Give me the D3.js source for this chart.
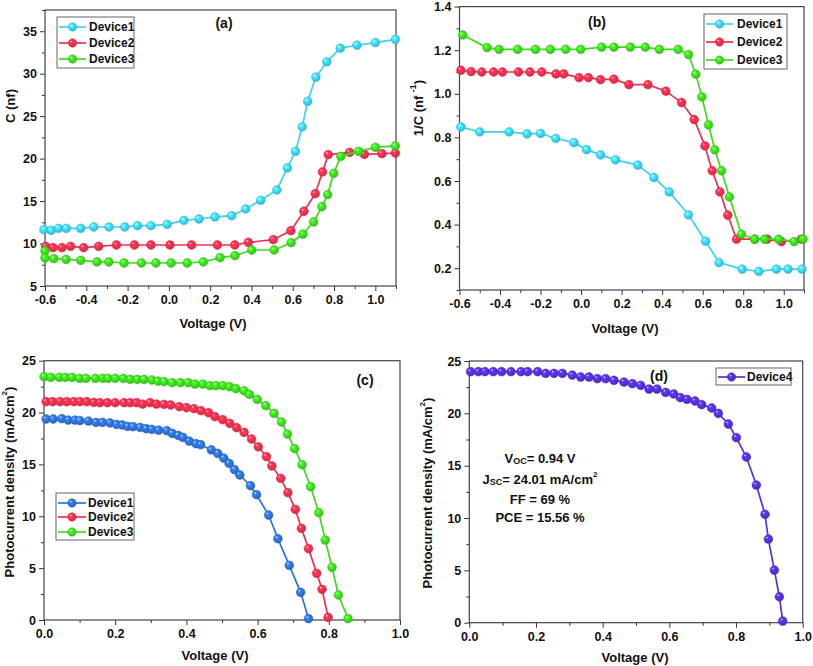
<!DOCTYPE html>
<html><head><meta charset="utf-8">
<script src="https://cdn.jsdelivr.net/npm/d3@7"></script>
<style>
body{margin:0;background:#fff}
text{font-family:"Liberation Sans",Arial,sans-serif;font-weight:bold;fill:#111}
</style></head><body>
<svg id="chart" width="813" height="666"></svg>
<script>
// ---------- DATA ----------
const legendNames = ["Device1","Device2","Device3"];
const legendNameD = ["Device4"];
const colorsAB = ["#3fd0f2","#f0304e","#3ddc1e"];
const colorsC  = ["#2f72d8","#f0304e","#3ddc1e"];
const colorD   = "#5530dc";

// (a) C vs V
const aDevice1 = [[-0.605,11.63],[-0.57,11.56],[-0.534,11.79],[-0.497,11.79],[-0.427,11.79],[-0.364,11.95],[-0.29,11.95],[-0.214,11.95],[-0.152,12.1],[-0.087,12.1],[-0.008,12.26],[0.073,12.73],[0.146,12.89],[0.223,13.13],[0.304,13.28],[0.372,14.07],[0.445,15.09],[0.523,16.31],[0.574,18.9],[0.613,20.86],[0.646,23.73],[0.672,26.75],[0.712,29.6],[0.765,31.4],[0.83,33.0],[0.911,33.35],[1.0,33.66],[1.097,34.05]];
const aDevice2 = [[-0.597,9.67],[-0.561,9.51],[-0.518,9.51],[-0.476,9.67],[-0.413,9.51],[-0.34,9.67],[-0.254,9.83],[-0.167,9.83],[-0.087,9.83],[0.005,9.83],[0.11,9.83],[0.235,9.83],[0.319,9.83],[0.385,10.14],[0.506,10.46],[0.591,11.52],[0.654,13.8],[0.709,15.87],[0.744,18.43],[0.772,20.47],[0.875,20.74],[0.947,20.5],[1.032,20.58],[1.097,20.66]];
const aDevice3 = [[-0.6,9.12],[-0.6,8.3],[-0.557,8.22],[-0.498,8.14],[-0.427,8.02],[-0.348,7.83],[-0.291,7.83],[-0.217,7.71],[-0.133,7.71],[-0.063,7.71],[0.011,7.71],[0.089,7.71],[0.167,7.83],[0.248,8.34],[0.32,8.57],[0.401,9.24],[0.51,9.24],[0.592,10.1],[0.649,11.12],[0.701,12.54],[0.741,14.34],[0.769,15.76],[0.798,18.27],[0.833,20.27],[0.919,20.86],[1.0,21.33],[1.097,21.49]];

// (b) 1/C vs V
const bDevice1 = [[-0.593,0.848],[-0.5,0.825],[-0.355,0.825],[-0.267,0.816],[-0.2,0.818],[-0.125,0.795],[-0.035,0.776],[0.027,0.744],[0.096,0.72],[0.17,0.697],[0.28,0.673],[0.359,0.616],[0.435,0.55],[0.53,0.445],[0.614,0.324],[0.681,0.226],[0.795,0.196],[0.877,0.185],[0.964,0.196],[1.021,0.196],[1.09,0.196]];
const bDevice2 = [[-0.593,1.108],[-0.543,1.102],[-0.49,1.1],[-0.432,1.1],[-0.388,1.1],[-0.309,1.1],[-0.252,1.1],[-0.194,1.1],[-0.124,1.091],[-0.086,1.091],[-0.01,1.074],[0.036,1.074],[0.096,1.065],[0.162,1.067],[0.236,1.042],[0.33,1.042],[0.418,1.012],[0.496,0.96],[0.558,0.882],[0.611,0.761],[0.647,0.647],[0.685,0.55],[0.724,0.443],[0.767,0.333],[0.857,0.333],[0.918,0.333],[0.988,0.322],[1.087,0.333]];
const bDevice3 = [[-0.584,1.27],[-0.464,1.212],[-0.405,1.204],[-0.313,1.204],[-0.225,1.204],[-0.152,1.204],[-0.076,1.204],[-0.002,1.204],[0.101,1.214],[0.162,1.214],[0.243,1.214],[0.317,1.214],[0.386,1.204],[0.479,1.204],[0.53,1.18],[0.566,1.09],[0.596,0.986],[0.629,0.857],[0.66,0.743],[0.693,0.647],[0.732,0.527],[0.791,0.356],[0.857,0.333],[0.906,0.333],[0.975,0.333],[1.051,0.322],[1.095,0.333]];

// (c) J-V
const cDevice1 = [[0.006,19.38],[0.026,19.38],[0.05,19.41],[0.068,19.28],[0.087,19.28],[0.101,19.23],[0.125,19.18],[0.146,19.05],[0.164,19.05],[0.185,19.0],[0.204,18.86],[0.22,18.8],[0.235,18.67],[0.25,18.64],[0.27,18.57],[0.287,18.44],[0.303,18.38],[0.322,18.3],[0.345,18.25],[0.36,18.0],[0.377,17.8],[0.39,17.6],[0.408,17.25],[0.427,17.0],[0.44,16.9],[0.47,16.4],[0.488,16.07],[0.505,15.6],[0.52,15.1],[0.535,14.5],[0.55,13.98],[0.58,12.95],[0.597,12.08],[0.631,10.12],[0.657,7.84],[0.689,5.27],[0.721,2.67],[0.743,0.13]];
const cDevice2 = [[0.006,21.05],[0.024,21.05],[0.045,21.05],[0.064,21.05],[0.084,21.05],[0.101,21.05],[0.12,21.05],[0.14,20.98],[0.157,20.95],[0.178,20.95],[0.2,20.95],[0.225,20.95],[0.242,20.95],[0.26,20.95],[0.277,20.82],[0.298,20.95],[0.316,20.82],[0.337,20.79],[0.356,20.73],[0.38,20.57],[0.4,20.47],[0.421,20.37],[0.441,20.18],[0.462,19.99],[0.48,19.6],[0.502,19.31],[0.522,18.96],[0.541,18.54],[0.562,18.09],[0.583,17.45],[0.602,16.7],[0.625,15.75],[0.64,14.85],[0.665,13.66],[0.685,12.28],[0.706,10.67],[0.723,8.84],[0.743,6.88],[0.766,4.5],[0.781,2.96],[0.798,0.26]];
const cDevice3 = [[0.0,23.46],[0.019,23.4],[0.043,23.4],[0.06,23.4],[0.079,23.4],[0.1,23.3],[0.118,23.3],[0.144,23.3],[0.165,23.3],[0.18,23.3],[0.2,23.3],[0.223,23.3],[0.242,23.2],[0.262,23.2],[0.281,23.2],[0.303,23.14],[0.32,23.04],[0.337,22.98],[0.36,22.88],[0.383,22.88],[0.405,22.88],[0.424,22.75],[0.446,22.75],[0.466,22.59],[0.483,22.59],[0.502,22.59],[0.521,22.49],[0.539,22.3],[0.562,22.1],[0.577,21.75],[0.599,21.27],[0.623,20.66],[0.646,19.92],[0.667,19.09],[0.684,17.93],[0.704,16.52],[0.725,14.97],[0.749,12.85],[0.772,10.35],[0.79,7.71],[0.809,5.08],[0.827,2.41],[0.854,0.13]];

// (d) J-V
const dDevice4 = [[0.004,23.98],[0.027,23.98],[0.047,23.98],[0.072,23.98],[0.097,23.98],[0.125,23.98],[0.155,23.98],[0.175,23.98],[0.205,23.98],[0.229,23.82],[0.254,23.82],[0.279,23.82],[0.309,23.66],[0.334,23.47],[0.359,23.47],[0.384,23.31],[0.409,23.31],[0.434,23.15],[0.464,22.99],[0.489,22.83],[0.514,22.68],[0.539,22.32],[0.563,22.32],[0.589,22.0],[0.613,21.85],[0.633,21.5],[0.653,21.34],[0.677,21.18],[0.697,20.83],[0.727,20.51],[0.747,20.0],[0.777,18.98],[0.801,17.68],[0.831,15.83],[0.861,13.15],[0.887,10.35],[0.897,7.99],[0.915,5.03],[0.93,2.48],[0.94,0.16]];

// tick labels
const xTicksAB = [-0.6,-0.4,-0.2,0.0,0.2,0.4,0.6,0.8,1.0];
const xMinorAB = [-0.5,-0.3,-0.1,0.1,0.3,0.5,0.7,0.9,1.1];
const yTicksA = [5,10,15,20,25,30,35];
const yMinorA = [7.5,12.5,17.5,22.5,27.5,32.5,37.5];
const yTicksB = [0.2,0.4,0.6,0.8,1.0,1.2,1.4];
const yMinorB = [0.1,0.3,0.5,0.7,0.9,1.1,1.3];
const xTicksCD = [0.0,0.2,0.4,0.6,0.8,1.0];
const xMinorCD = [0.1,0.3,0.5,0.7,0.9];
const yTicksCD = [0,5,10,15,20,25];
const yMinorCD = [2.5,7.5,12.5,17.5,22.5];

// ---------- DRAW ----------
const svg = d3.select("#chart");
const defs = svg.append("defs");
function grad(id, c){
  const g = defs.append("radialGradient").attr("id",id).attr("cx","0.45").attr("cy","0.45").attr("r","0.6").attr("fx","0.33").attr("fy","0.3");
  g.append("stop").attr("offset","0%").attr("stop-color","#ffffff");
  g.append("stop").attr("offset","22%").attr("stop-color",d3.color(c).brighter(0.5));
  g.append("stop").attr("offset","60%").attr("stop-color",c);
  g.append("stop").attr("offset","100%").attr("stop-color",d3.color(c).darker(0.5));
  return "url(#"+id+")";
}

function panel(cfg){
  const x = d3.scaleLinear().domain(cfg.xDom).range([cfg.l,cfg.r]);
  const y = d3.scaleLinear().domain(cfg.yDom).range([cfg.b,cfg.t]);
  const g = svg.append("g");
  const fx = d=>d.toFixed(1);
  g.append("g").attr("transform",`translate(0,${cfg.b})`)
    .call(d3.axisBottom(x).tickValues(cfg.xTicks).tickFormat(fx).tickSize(5).tickSizeOuter(0).tickPadding(4));
  g.append("g").attr("transform",`translate(0,${cfg.b})`)
    .call(d3.axisBottom(x).tickValues(cfg.xMinor).tickFormat("").tickSize(3).tickSizeOuter(0));
  g.append("g").attr("transform",`translate(${cfg.l},0)`)
    .call(d3.axisLeft(y).tickValues(cfg.yTicks).tickFormat(cfg.yFmt).tickSize(5).tickSizeOuter(0).tickPadding(3));
  g.append("g").attr("transform",`translate(${cfg.l},0)`)
    .call(d3.axisLeft(y).tickValues(cfg.yMinor).tickFormat("").tickSize(3).tickSizeOuter(0));
  g.selectAll(".domain").remove();
  g.selectAll(".tick line").attr("stroke","#333");
  g.selectAll(".tick text").style("font-size","12.5px").style("font-family","'Liberation Sans',Arial,sans-serif").style("font-weight","bold").attr("fill","#111");
  g.append("rect").attr("x",cfg.l).attr("y",cfg.t).attr("width",cfg.r-cfg.l).attr("height",cfg.b-cfg.t)
    .attr("fill","none").attr("stroke","#444").attr("stroke-width",1.2);
  const line = d3.line().x(d=>x(d[0])).y(d=>y(d[1]));
  cfg.series.forEach((s,i)=>{
    const fill = grad(cfg.id+"g"+i, s.color);
    g.append("path").datum(s.data).attr("d",line).attr("fill","none").attr("stroke",s.color).attr("stroke-width",1.7);
    g.selectAll(null).data(s.data).enter().append("circle")
      .attr("cx",d=>x(d[0])).attr("cy",d=>y(d[1])).attr("r",4.4)
      .attr("fill",fill).attr("stroke",d3.color(s.color).darker(0.4)).attr("stroke-width",0.5);
  });
  // legend
  const L = cfg.legend;
  g.append("rect").attr("x",L.x0).attr("y",L.y0).attr("width",L.x1-L.x0).attr("height",L.y1-L.y0)
    .attr("fill","#fff").attr("stroke","#666").attr("stroke-width",1);
  cfg.series.forEach((s,i)=>{
    const yy = L.ys[i];
    g.append("line").attr("x1",L.lx0).attr("x2",L.lx1).attr("y1",yy).attr("y2",yy).attr("stroke",s.color).attr("stroke-width",1.7);
    g.append("circle").attr("cx",(L.lx0+L.lx1)/2).attr("cy",yy).attr("r",4.2).attr("fill","url(#"+cfg.id+"g"+i+")")
      .attr("stroke",d3.color(s.color).darker(0.4)).attr("stroke-width",0.5);
    g.append("text").attr("x",L.tx).attr("y",yy).attr("dominant-baseline","central").style("font-size","12px").text(s.name);
  });
  // panel tag
  g.append("text").attr("x",cfg.tag[0]).attr("y",cfg.tag[1]).attr("text-anchor","middle").attr("dominant-baseline","central")
    .style("font-size","14px").text(cfg.tag[2]);
  // x title
  g.append("text").attr("x",cfg.xt[0]).attr("y",cfg.xt[1]).attr("text-anchor","middle").attr("dominant-baseline","central")
    .style("font-size","13px").text("Voltage (V)");
  // y title
  const yt = g.append("text").attr("transform",`translate(${cfg.yt[0]},${cfg.yt[1]}) rotate(-90)`)
    .attr("text-anchor","middle").attr("dominant-baseline","central").style("font-size","13px");
  cfg.yTitle(yt);
  return {x,y,g};
}

panel({id:"a", xDom:[-0.6,1.1], yDom:[5,37.5], l:45, r:396, t:10, b:286,
  xTicks:xTicksAB, xMinor:xMinorAB, yTicks:yTicksA, yMinor:yMinorA, yFmt:d=>d,
  series:[{name:legendNames[0],color:colorsAB[0],data:aDevice1},{name:legendNames[1],color:colorsAB[1],data:aDevice2},{name:legendNames[2],color:colorsAB[2],data:aDevice3}],
  legend:{x0:57,y0:17,x1:134,y1:68,ys:[27,43,59],lx0:59,lx1:86,tx:89},
  tag:[224,23,"(a)"], xt:[213,323], yt:[10,106],
  yTitle:t=>t.text("C (nf)")});

panel({id:"b", xDom:[-0.6,1.1], yDom:[0.1,1.4], l:459.5, r:804, t:6.6, b:290,
  xTicks:xTicksAB, xMinor:xMinorAB, yTicks:yTicksB, yMinor:yMinorB, yFmt:d=>d.toFixed(1),
  series:[{name:legendNames[0],color:colorsAB[0],data:bDevice1},{name:legendNames[1],color:colorsAB[1],data:bDevice2},{name:legendNames[2],color:colorsAB[2],data:bDevice3}],
  legend:{x0:704,y0:14,x1:787,y1:69,ys:[24,42,60],lx0:706,lx1:733,tx:737},
  tag:[597,22,"(b)"], xt:[625,328], yt:[418,108],
  yTitle:t=>{t.append("tspan").text("1/C (nf ");t.append("tspan").attr("dy",-5).style("font-size","9px").text("-1");t.append("tspan").attr("dy",5).text(")");}});

panel({id:"c", xDom:[0,1], yDom:[0,25], l:44, r:400, t:360.7, b:620,
  xTicks:xTicksCD, xMinor:xMinorCD, yTicks:yTicksCD, yMinor:yMinorCD, yFmt:d=>d,
  series:[{name:legendNames[0],color:colorsC[0],data:cDevice1},{name:legendNames[1],color:colorsC[1],data:cDevice2},{name:legendNames[2],color:colorsC[2],data:cDevice3}],
  legend:{x0:56,y0:493,x1:134,y1:540,ys:[503,517,532],lx0:58,lx1:86,tx:88},
  tag:[365,380,"(c)"], xt:[215,655], yt:[9,482],
  yTitle:t=>{t.append("tspan").text("Photocurrent density (mA/cm");t.append("tspan").attr("dy",-5).style("font-size","8px").text("2");t.append("tspan").attr("dy",5).text(")");}});

const pd = panel({id:"d", xDom:[0,1], yDom:[0,25], l:469.3, r:802.7, t:361, b:622.7,
  xTicks:xTicksCD, xMinor:xMinorCD, yTicks:yTicksCD, yMinor:yMinorCD, yFmt:d=>d,
  series:[{name:legendNameD[0],color:colorD,data:dDevice4}],
  legend:{x0:716,y0:368,x1:791,y1:385,ys:[377],lx0:718,lx1:745,tx:747},
  tag:[659,376,"(d)"], xt:[635,657], yt:[427,493],
  yTitle:t=>{t.append("tspan").text("Photocurrent density (mA/cm");t.append("tspan").attr("dy",-5).style("font-size","8px").text("2");t.append("tspan").attr("dy",5).text(")");}});

// annotation in (d)
const ann = pd.g.append("g").style("font-size","13px");
function annLine(y, parts){
  const t = ann.append("text").attr("x",540).attr("y",y).attr("text-anchor","middle").attr("dominant-baseline","central");
  parts.forEach(p=>{
    const s = t.append("tspan").text(p[0]);
    if(p[1]==="sub") s.attr("dy",3).style("font-size","9px");
    else if(p[1]==="sup") s.attr("dy",-5).style("font-size","8px");
    else if(p[1]) s.attr("dy",p[1]);
  });
}
annLine(458,[["V"],["OC","sub"],["= 0.94 V",-3]]);
annLine(479,[["J"],["SC","sub"],["= 24.01 mA/cm",-3],["2","sup"]]);
annLine(499,[["FF = 69 %"]]);
annLine(517,[["PCE = 15.56 %"]]);
</script>
</body></html>
